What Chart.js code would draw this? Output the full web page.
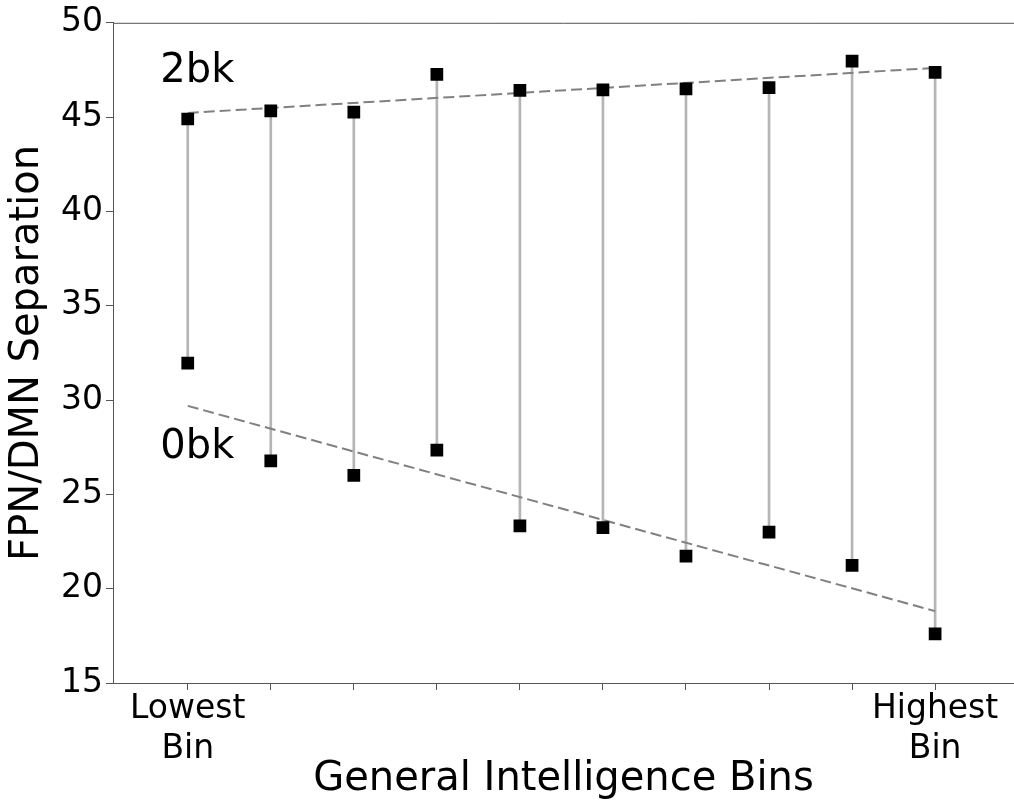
<!DOCTYPE html>
<html>
<head>
<meta charset="utf-8">
<script src="https://cdn.jsdelivr.net/npm/chart.js@4"></script>
<style>
  html, body { margin: 0; padding: 0; background: #fff; }
  #wrap { width: 1014px; height: 805px; }
</style>
</head>
<body>
<div id="wrap"><canvas id="sepChart" width="1014" height="805"></canvas></div>
<script>
// bins along x (0 = lowest, 9 = highest)
const bins = [0, 1, 2, 3, 4, 5, 6, 7, 8, 9];
const twoBack = [44.90, 45.33, 45.27, 47.26, 46.42, 46.45, 46.50, 46.56, 47.97, 47.37];
const zeroBack = [31.96, 26.77, 26.01, 27.35, 23.33, 23.24, 21.73, 23.00, 21.24, 17.61];
// fitted trend lines, endpoints
const trendTwoBack = [45.22, 47.61];
const trendZeroBack = [29.69, 18.81];
const yTicks = [15, 20, 25, 30, 35, 40, 45, 50];

const annotations = [
    { text: '2bk', x: -0.33, y: 46.88 },
    { text: '0bk', x: -0.33, y: 26.95 }
];

const FONT = "'DejaVu Sans', sans-serif";

const textPlugin = {
    id: 'textPlugin',
    afterDraw(chart) {
        const ctx = chart.ctx;
        const xs = chart.scales.x, ys = chart.scales.y;
        const area = chart.chartArea;
        ctx.save();
        // top spine
        ctx.strokeStyle = '#555';
        ctx.lineWidth = 1;
        ctx.beginPath();
        ctx.moveTo(area.left, area.top + 0.5);
        ctx.lineTo(area.right, area.top + 0.5);
        ctx.stroke();
        ctx.fillStyle = '#000';
        ctx.font = '40px ' + FONT;
        ctx.textAlign = 'left';
        ctx.textBaseline = 'alphabetic';
        annotations.forEach(a => {
            ctx.fillText(a.text, xs.getPixelForValue(a.x), ys.getPixelForValue(a.y));
        });
        ctx.restore();
    }
};

const ctx = document.getElementById('sepChart').getContext('2d');
new Chart(ctx, {
    data: {
        datasets: [
            {
                type: 'scatter',
                label: '2bk',
                data: bins.map((b, i) => ({ x: b, y: twoBack[i] })),
                pointStyle: 'rect',
                pointRadius: 9,
                pointHoverRadius: 9,
                backgroundColor: '#000',
                borderColor: '#000',
                borderWidth: 0
            },
            {
                type: 'scatter',
                label: '0bk',
                data: bins.map((b, i) => ({ x: b, y: zeroBack[i] })),
                pointStyle: 'rect',
                pointRadius: 9,
                pointHoverRadius: 9,
                backgroundColor: '#000',
                borderColor: '#000',
                borderWidth: 0
            },
            {
                type: 'line',
                label: '2bk trend',
                data: [{ x: bins[0], y: trendTwoBack[0] }, { x: bins[bins.length - 1], y: trendTwoBack[1] }],
                borderColor: '#808080',
                borderWidth: 2,
                borderDash: [11, 5],
                pointRadius: 0,
                fill: false
            },
            {
                type: 'line',
                label: '0bk trend',
                data: [{ x: bins[0], y: trendZeroBack[0] }, { x: bins[bins.length - 1], y: trendZeroBack[1] }],
                borderColor: '#808080',
                borderWidth: 2,
                borderDash: [11, 5],
                pointRadius: 0,
                fill: false
            },
            {
                type: 'bar',
                label: 'range',
                data: bins.map((b, i) => ({ x: b, y: [zeroBack[i], twoBack[i]] })),
                backgroundColor: '#b5b5b5',
                borderWidth: 0,
                barThickness: 2
            }
        ]
    },
    options: {
        responsive: false,
        animation: false,
        layout: { autoPadding: false, padding: { top: 20, right: 0, left: 0, bottom: 0 } },
        plugins: {
            legend: { display: false },
            tooltip: { enabled: false }
        },
        scales: {
            x: {
                type: 'linear',
                min: -0.9,
                max: 9.95,
                offset: false,
                afterBuildTicks: scale => { scale.ticks = bins.map(v => ({ value: v })); },
                afterFit: scale => { scale.height = 122; scale.paddingRight = 0; },
                grid: { drawOnChartArea: false, drawTicks: true, tickLength: 7, color: '#555', offset: false },
                border: { display: true, color: '#555', width: 1 },
                ticks: {
                    autoSkip: false,
                    maxRotation: 0,
                    padding: 0,
                    color: '#000',
                    font: { family: FONT, size: 33 },
                    callback: v => v === bins[0] ? ['Lowest', 'Bin'] : (v === bins[bins.length - 1] ? ['Highest', 'Bin'] : '')
                },
                title: {
                    display: true,
                    text: 'General Intelligence Bins',
                    color: '#000',
                    font: { family: FONT, size: 40 },
                    padding: { top: 0, bottom: 1 }
                }
            },
            y: {
                type: 'linear',
                min: 15,
                max: 50,
                afterBuildTicks: scale => { scale.ticks = yTicks.map(v => ({ value: v })); },
                afterFit: scale => { scale.width = 113; },
                grid: { drawOnChartArea: false, drawTicks: true, tickLength: 7, color: '#555' },
                border: { display: true, color: '#555', width: 1 },
                ticks: {
                    padding: 3,
                    color: '#000',
                    font: { family: FONT, size: 33 }
                },
                title: {
                    display: true,
                    text: 'FPN/DMN Separation',
                    color: '#000',
                    font: { family: FONT, size: 40 },
                    padding: { top: 4, bottom: 0 }
                }
            }
        }
    },
    plugins: [textPlugin]
});
</script>
</body>
</html>
